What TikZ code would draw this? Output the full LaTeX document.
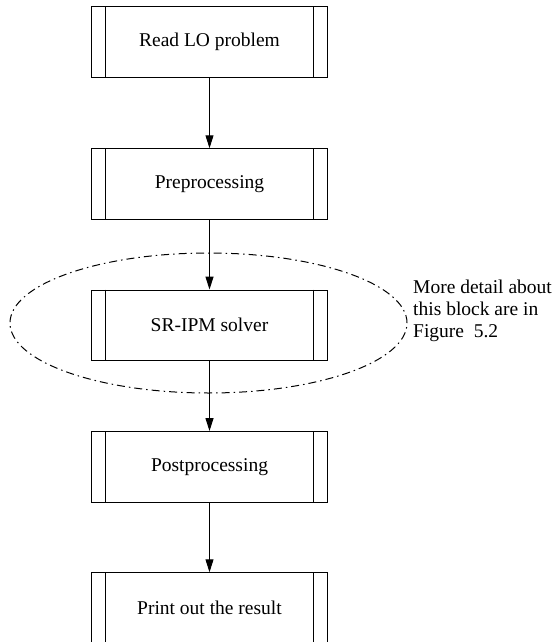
\documentclass[tikz,border=0pt]{standalone}
\usepackage{fontspec}
\setmainfont{Liberation Serif}
\usetikzlibrary{arrows.meta,shapes.geometric}
\tikzset{
  procbox/.style={draw=black, line width=1pt, minimum width=236pt, minimum height=70.5pt, inner sep=0pt,
    font=\fontsize{19.5}{23}\selectfont,
    append after command={
      \pgfextra{\let\thisnode\tikzlastnode}
      ([xshift=14.5pt]\thisnode.north west) edge[line width=1pt,-] ([xshift=14.5pt]\thisnode.south west)
      ([xshift=-14.5pt]\thisnode.north east) edge[line width=1pt,-] ([xshift=-14.5pt]\thisnode.south east)
    }},
  flow/.style={line width=1pt, -{Triangle[length=13pt,width=8pt]}},
  dashdotline/.style={line width=1pt, dash pattern=on 8pt off 4pt on 1.5pt off 4pt},
  note/.style={font=\fontsize{19.5}{22}\selectfont, align=left, anchor=west, inner sep=0pt}
}
\begin{document}
\begin{tikzpicture}[x=1pt,y=-1pt]
\useasboundingbox (0,0) rectangle (556,642);
\node[procbox] (b1) at (209.5,42) {Read LO problem};
\node[procbox] (b2) at (209.5,184) {Preprocessing};
\node[procbox] (b3) at (209.5,325.3) {SR-IPM solver};
\node[procbox] (b4) at (209.5,466.8) {Postprocessing};
\node[procbox] (b5) at (209.5,608) {Print out the result};
\draw[flow] (b1) -- (b2);
\draw[flow] (b2) -- (b3);
\draw[flow] (b3) -- (b4);
\draw[flow] (b4) -- (b5);
\node[ellipse, draw, dashdotline, minimum width=397pt, minimum height=140pt, inner sep=0pt] (el) at (208.5,323) {};
\node[note] (nt) at (413,311) {More detail about\\this block are in\\Figure\ \ 5.2};
\end{tikzpicture}
\end{document}
